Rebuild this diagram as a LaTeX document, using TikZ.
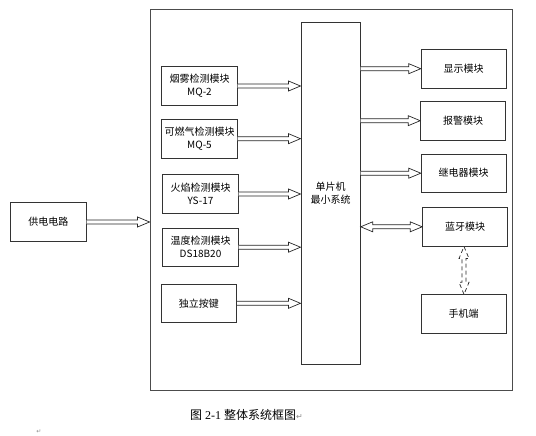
\documentclass[tikz,border=0pt]{standalone}
\usepackage{fontspec}
\setmainfont{Liberation Serif}
\newfontfamily\cjk{Noto Sans CJK SC}
\newfontfamily\symfont{DejaVu Sans}
\usetikzlibrary{calc}

% hollow block arrow from #2 to #3
\newcommand{\blockarrow}[3][]{%
    \coordinate (ba-s) at #2;
    \coordinate (ba-e) at #3;
    \coordinate (ba-h) at ($(ba-e)!12pt!(ba-s)$);
    \draw[hollow,#1] ($(ba-s)!2pt!90:(ba-e)$) -- ($(ba-h)!2pt!90:(ba-e)$)
        -- ($(ba-h)!5pt!90:(ba-e)$) -- (ba-e) -- ($(ba-h)!5pt!-90:(ba-e)$)
        -- ($(ba-h)!2pt!-90:(ba-e)$) -- ($(ba-s)!2pt!-90:(ba-e)$);
}
% same, with a head at both ends
\newcommand{\dblockarrow}[3][]{%
    \coordinate (ba-s) at #2;
    \coordinate (ba-e) at #3;
    \coordinate (ba-h) at ($(ba-e)!12pt!(ba-s)$);
    \coordinate (ba-t) at ($(ba-s)!12pt!(ba-e)$);
    \draw[hollow,#1] (ba-s) -- ($(ba-t)!5pt!90:(ba-e)$) -- ($(ba-t)!2pt!90:(ba-e)$)
        -- ($(ba-h)!2pt!90:(ba-e)$) -- ($(ba-h)!5pt!90:(ba-e)$) -- (ba-e)
        -- ($(ba-h)!5pt!-90:(ba-e)$) -- ($(ba-h)!2pt!-90:(ba-e)$)
        -- ($(ba-t)!2pt!-90:(ba-e)$) -- ($(ba-t)!5pt!-90:(ba-e)$) -- cycle;
}

\tikzset{
    module/.style={draw=black!80, line width=0.8pt, inner sep=0pt,
        minimum width=75.6pt, minimum height=38.6pt, align=center,
        font=\cjk\fontsize{10}{13}\selectfont},
    outmodule/.style={module, minimum width=84.8pt},
    hollow/.style={draw=black!85, line width=0.7pt, fill=white, line join=miter},
}

\begin{document}
\begin{tikzpicture}[x=1pt,y=-1pt]
    \useasboundingbox (0,0) rectangle (536,436);

    \node[draw=black!70, line width=0.9pt, minimum width=362pt, minimum height=380.7pt] (board) at (331,199.7) {};
    \node[module] (power) at (48.4,222) {供电电路};

    \node[module, minimum width=59.4pt, minimum height=341.3pt] (mcu) at (330.6,193.3) {单片机\\最小系统};

    \node[module] (smoke) at (199.5,86) {烟雾检测模块\\MQ-2};
    \node[module] (gas) at (199.5,138.7) {可燃气检测模块\\MQ-5};
    \node[module] (flame) at (200.5,194) {火焰检测模块\\YS-17};
    \node[module] (temp) at (200.5,247.2) {温度检测模块\\DS18B20};
    \node[module] (key) at (198.8,303.3) {独立按键};

    \node[outmodule] (display) at (463.6,68.7) {显示模块};
    \node[outmodule] (alarm) at (463,120.7) {报警模块};
    \node[outmodule] (relay) at (463.6,173.2) {继电器模块};
    \node[outmodule] (bt) at (465,226.8) {蓝牙模块};
    \node[outmodule] (phone) at (463.6,314) {手机端};

    \blockarrow{(power.east)}{(board.west |- power.east)}

    \foreach \m in {smoke,gas,flame,temp,key}
        \blockarrow{(\m.east)}{(mcu.west |- \m.east)};

    \foreach \m in {display,alarm,relay}
        \blockarrow{(mcu.east |- \m.west)}{(\m.west)};
    \dblockarrow{(mcu.east |- bt.west)}{(bt.west)}
    \dblockarrow[dashed, dash pattern=on 4pt off 3pt]{(phone.north -| 464,0)}{(bt.south -| 464,0)}

    \node[anchor=west, inner sep=0pt] (caption) at (190,415)
        {\fontsize{12}{14}\selectfont{\cjk 图} 2-1 {\cjk 整体系统框图}{\symfont\color{black!45}\fontsize{8}{8}\selectfont ↵}};
    \node[inner sep=0pt, text=black!45, font=\symfont\fontsize{6}{6}\selectfont] (mark) at (39,432) {↵};
\end{tikzpicture}
\end{document}
